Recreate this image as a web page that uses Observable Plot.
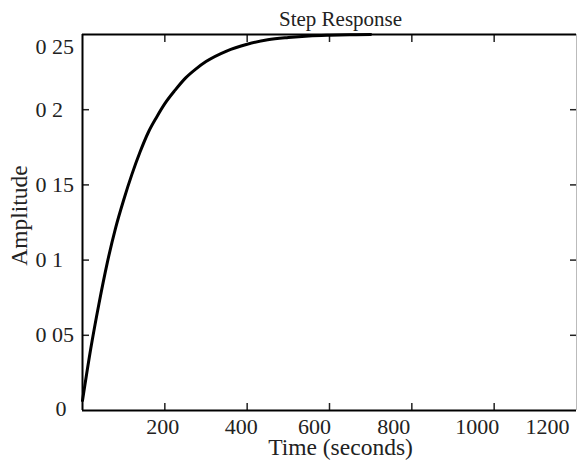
<!DOCTYPE html>
<html>
<head>
<meta charset="utf-8">
<script src="https://cdn.jsdelivr.net/npm/d3@7"></script>
<script src="https://cdn.jsdelivr.net/npm/@observablehq/plot@0.6"></script>
<style>
  html, body { margin: 0; padding: 0; background: #fff; }
</style>
</head>
<body>
<div id="chart"></div>
<script>
const title = "Step Response";
const xLabel = "Time (seconds)";
const yLabel = "Amplitude";

const times = [0, 20, 40, 60, 80, 100, 120, 140, 160, 180, 200, 225, 250, 275, 300, 350, 400, 450, 500, 550, 600, 650, 700];
const amplitudes = [0.0066, 0.041, 0.071, 0.098, 0.121, 0.140, 0.157, 0.172, 0.185, 0.195, 0.204, 0.213, 0.221, 0.227, 0.232, 0.239, 0.2435, 0.2465, 0.248, 0.249, 0.2495, 0.2498, 0.25];

const xTicks = [200, 400, 600, 800, 1000, 1200];
const yTicks = [0, 0.05, 0.1, 0.15, 0.2, 0.25];
const yTickLabels = ["0", "0 05", "0 1", "0 15", "0 2", "0 25"];

const data = times.map((t, i) => ({t, a: amplitudes[i]}));
const yFmt = v => yTickLabels[yTicks.indexOf(v)];
const xFmt = v => String(v);
const font = "'Liberation Serif', 'Times New Roman', serif";
// horizontal nudges of the x tick labels as placed in the original figure
const xLabelShift = [-2, -6, -15, -18, -17, -29];

const chart = Plot.plot({
  width: 577,
  height: 460,
  marginLeft: 82,
  marginRight: 1,
  marginTop: 34,
  marginBottom: 50,
  style: {fontFamily: font, fontSize: "22px", color: "#222", background: "#fff"},
  x: {domain: [0, 1200]},
  y: {domain: [0, 0.25]},
  marks: [
    // inward ticks
    Plot.axisY({anchor: "left", ticks: yTicks.slice(1, 5), tickSize: -7, tickFormat: () => "", label: null, strokeWidth: 1.5}),
    Plot.axisY({anchor: "right", ticks: yTicks.slice(1, 5), tickSize: -7, tickFormat: () => "", label: null, strokeWidth: 1.5}),
    Plot.axisX({anchor: "bottom", ticks: xTicks.slice(0, 5), tickSize: -7, tickFormat: () => "", label: null, strokeWidth: 1.5}),
    Plot.axisX({anchor: "top", ticks: xTicks.slice(0, 5), tickSize: -7, tickFormat: () => "", label: null, strokeWidth: 1.5}),
    // y tick labels
    Plot.axisY({anchor: "left", ticks: yTicks.slice(1, 5), tickSize: 0, tickPadding: 47, textAnchor: "start", tickFormat: yFmt, label: null, fill: "#222"}),
    Plot.axisY({anchor: "left", ticks: [yTicks[5]], tickSize: 0, tickPadding: 47, textAnchor: "start", dy: 12, tickFormat: yFmt, label: null, fill: "#222"}),
    Plot.axisY({anchor: "left", ticks: [yTicks[0]], tickSize: 0, tickPadding: 27, textAnchor: "start", dy: -2, tickFormat: yFmt, label: null, fill: "#222"}),
    // x tick labels
    ...xTicks.map((t, i) => Plot.axisX({anchor: "bottom", ticks: [t], tickSize: 0, tickPadding: 8, dx: xLabelShift[i], tickFormat: xFmt, label: null, fill: "#222"})),
    // frame
    Plot.ruleX([1200], {stroke: "#bbb", strokeWidth: 1}),
    Plot.ruleY([0], {stroke: "black", strokeWidth: 2}),
    Plot.ruleY([0.25], {stroke: "black", strokeWidth: 2}),
    Plot.ruleX([0], {stroke: "black", strokeWidth: 2}),
    // curve
    Plot.line(data, {x: "t", y: "a", stroke: "black", strokeWidth: 3, curve: "monotone-x"}),
    // titles
    Plot.text([title], {frameAnchor: "top", dx: 11, dy: -9, lineAnchor: "bottom", fontSize: 21, fill: "#222"}),
    Plot.text([xLabel], {frameAnchor: "bottom", dx: 11, dy: 28, lineAnchor: "top", fontSize: 23.5, fill: "#222"}),
    Plot.text([yLabel], {frameAnchor: "left", dx: -63, dy: -7, rotate: -90, textAnchor: "middle", lineAnchor: "middle", fontSize: 23.5, fill: "#222"})
  ]
});
document.getElementById("chart").appendChild(chart);
</script>
</body>
</html>
